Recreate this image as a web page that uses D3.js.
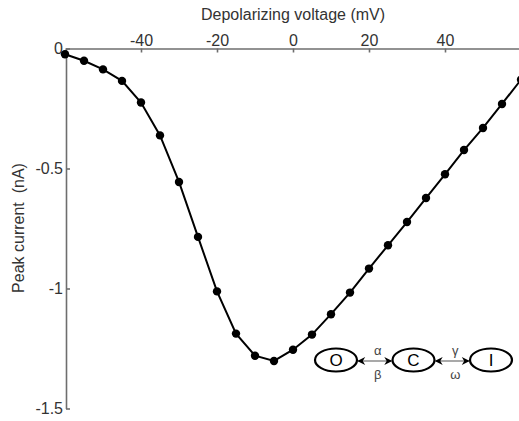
<!DOCTYPE html>
<html>
<head>
<meta charset="utf-8">
<script src="https://cdn.jsdelivr.net/npm/d3@7/dist/d3.min.js"></script>
<style>
    body { margin: 0; background: #fff; }
    svg { display: block; font-family: "Liberation Sans", Arial, sans-serif; }
    .axis path, .axis line { stroke: #6e6e6e; stroke-width: 1.6; }
    .axis text { fill: #333; font-size: 16px; font-family: "Liberation Sans", Arial, sans-serif; }
</style>
</head>
<body>
<div id="chart"></div>
<script>
// depolarizing voltage (mV) and peak current (nA)
var voltage = [-60, -55, -50, -45, -40, -35, -30, -25, -20, -15, -10, -5, 0,
    5, 10, 15, 20, 25, 30, 35, 40, 45, 50, 55, 60];
var current = [-0.024, -0.051, -0.087, -0.135, -0.225, -0.362, -0.556, -0.785, -1.012,
    -1.188, -1.28, -1.302, -1.255, -1.192, -1.107, -1.017, -0.917, -0.82, -0.723,
    -0.623, -0.524, -0.423, -0.331, -0.231, -0.13];

var xTicks = [-40, -20, 0, 20, 40];
var yTicks = [0, -0.5, -1, -1.5];

// kinetic scheme in the inset
var states = ["O", "C", "I"];
var ratesAbove = ["\u03b1", "\u03b3"];
var ratesBelow = ["\u03b2", "\u03c9"];

var svgWidth = 519;
var svgHeight = 421;

var svg = d3.select("#chart")
    .append("svg")
    .attr("width", svgWidth)
    .attr("height", svgHeight);

var xScale = d3.scaleLinear()
    .domain([-60, 60])
    .range([65, 521]);

var yScale = d3.scaleLinear()
    .domain([0, -1.5])
    .range([48.5, 408.5]);

var fmt = function (d) { return String(d).replace("\u2212", "-"); };

// top axis, ticks pointing into the plot
var topAxis = d3.axisTop(xScale)
    .tickValues(xTicks)
    .tickSizeInner(-4)
    .tickSizeOuter(0)
    .tickPadding(3)
    .tickFormat(fmt);

svg.append("g")
    .attr("class", "axis")
    .attr("transform", `translate(0, ${yScale(0)})`)
    .call(topAxis);

var leftAxis = d3.axisLeft(yScale)
    .tickValues(yTicks)
    .tickSizeInner(-4)
    .tickSizeOuter(0)
    .tickPadding(3)
    .tickFormat(fmt);

svg.append("g")
    .attr("class", "axis")
    .attr("transform", `translate(${xScale(-60) + 1}, 0)`)
    .call(leftAxis);

// axis titles
svg.append("text")
    .attr("x", 293)
    .attr("y", 20)
    .attr("text-anchor", "middle")
    .attr("fill", "#333")
    .style("font-size", "16px")
    .text("Depolarizing voltage (mV)");

svg.append("text")
    .attr("transform", "translate(24, 228) rotate(-90)")
    .attr("text-anchor", "middle")
    .attr("fill", "#333")
    .style("font-size", "16px")
    .attr("xml:space", "preserve")
    .text("Peak current  (nA)");

// I-V curve
var points = voltage.map(function (v, i) { return { v: v, c: current[i] }; });

var line = d3.line()
    .x(d => xScale(d.v))
    .y(d => yScale(d.c));

svg.append("path")
    .datum(points)
    .attr("d", line)
    .attr("fill", "none")
    .attr("stroke", "#000")
    .attr("stroke-width", 2);

svg.selectAll(".dot")
    .data(points)
    .enter()
    .append("circle")
    .attr("class", "dot")
    .attr("cx", d => xScale(d.v))
    .attr("cy", d => yScale(d.c))
    .attr("r", 4.2)
    .attr("fill", "#000");

// O <-> C <-> I scheme
var defs = svg.append("defs");
defs.append("marker")
    .attr("id", "head")
    .attr("viewBox", "0 0 10 10")
    .attr("refX", 9)
    .attr("refY", 5)
    .attr("markerWidth", 9)
    .attr("markerHeight", 8)
    .attr("markerUnits", "userSpaceOnUse")
    .attr("orient", "auto-start-reverse")
    .append("path")
    .attr("d", "M0,0 L10,5 L0,10 L3,5 Z")
    .attr("fill", "#000");

var stateX = d3.scalePoint()
    .domain(states)
    .range([336, 491]);
var stateY = 360;
var rx = 21, ry = 11.5;

var stateGroup = svg.append("g");

stateGroup.selectAll("ellipse")
    .data(states)
    .enter()
    .append("ellipse")
    .attr("cx", d => stateX(d))
    .attr("cy", stateY)
    .attr("rx", rx)
    .attr("ry", ry)
    .attr("fill", "#fff")
    .attr("stroke", "#000")
    .attr("stroke-width", 2.2);

stateGroup.selectAll(".state")
    .data(states)
    .enter()
    .append("text")
    .attr("class", "state")
    .attr("x", d => stateX(d))
    .attr("y", stateY + 6)
    .attr("text-anchor", "middle")
    .style("font-size", "17px")
    .attr("fill", "#000")
    .text(d => d);

var links = states.slice(1).map(function (s, i) {
    return { from: states[i], to: s, above: ratesAbove[i], below: ratesBelow[i] };
});

stateGroup.selectAll(".link")
    .data(links)
    .enter()
    .append("line")
    .attr("class", "link")
    .attr("x1", d => stateX(d.from) + rx + 1)
    .attr("x2", d => stateX(d.to) - rx - 1)
    .attr("y1", stateY + 1)
    .attr("y2", stateY + 1)
    .attr("stroke", "#555")
    .attr("stroke-width", 1.2)
    .attr("marker-start", "url(#head)")
    .attr("marker-end", "url(#head)");

stateGroup.selectAll(".above")
    .data(links)
    .enter()
    .append("text")
    .attr("x", d => (stateX(d.from) + stateX(d.to)) / 2 + 3)
    .attr("y", stateY - 5)
    .attr("text-anchor", "middle")
    .attr("fill", "#444")
    .style("font-size", "13px")
    .text(d => d.above);

stateGroup.selectAll(".below")
    .data(links)
    .enter()
    .append("text")
    .attr("x", d => (stateX(d.from) + stateX(d.to)) / 2 + 3)
    .attr("y", stateY + 19)
    .attr("text-anchor", "middle")
    .attr("fill", "#444")
    .style("font-size", "13px")
    .text(d => d.below);
</script>
</body>
</html>
